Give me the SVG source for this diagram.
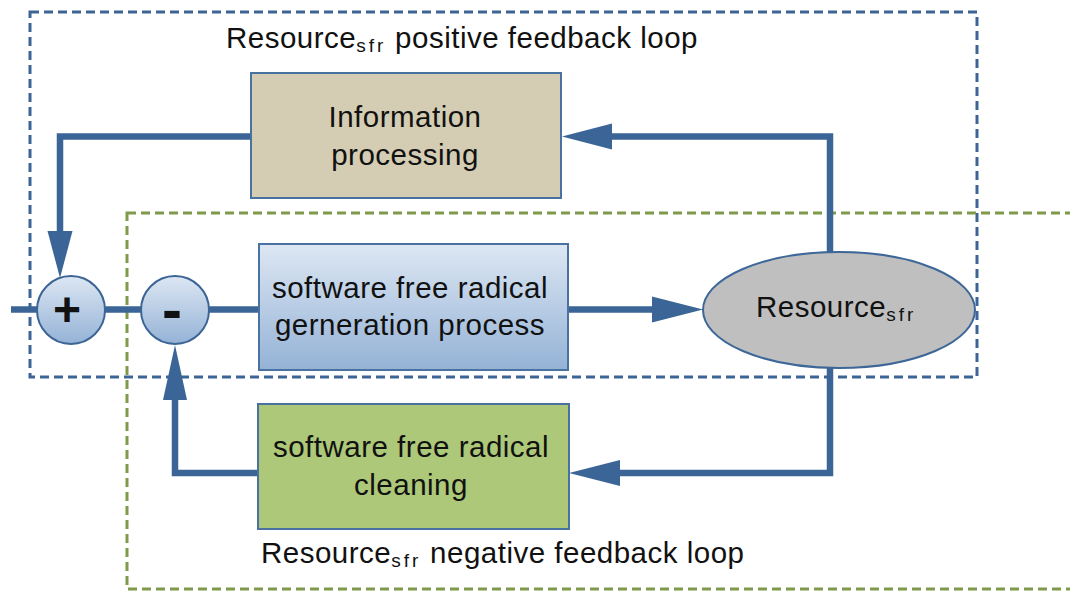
<svg xmlns="http://www.w3.org/2000/svg" width="1070" height="591" viewBox="0 0 1070 591">
<style>
.frameB{fill:none;stroke:#3c6595;stroke-width:3;stroke-dasharray:9 5}
.frameG{fill:none;stroke:#7e9a4a;stroke-width:3;stroke-dasharray:9 5}
.conn{fill:none;stroke:#3b6597;stroke-width:6.5;stroke-linejoin:miter;stroke-linecap:butt}
.head{fill:#3b6597}
.t{font-family:"Liberation Sans",Arial,sans-serif;font-size:29.5px;fill:#111;letter-spacing:0.5px}
.sub{font-size:19px;letter-spacing:3px}
.node{stroke:#4a72a0;stroke-width:2}
</style>
<defs>
<linearGradient id="gb" x1="0" y1="0" x2="0" y2="1">
<stop offset="0" stop-color="#dde7f3"/>
<stop offset="1" stop-color="#94b2d6"/>
</linearGradient>
</defs>
<g id="frames">
<rect class="frameB" x="30" y="12" width="947" height="365"/>
<rect class="frameG" x="127" y="213" width="1000" height="376"/>
</g>
<g id="connectors">
<polyline class="conn" points="11,309.5 37,309.5"/>
<polyline class="conn" points="105,309.5 141,309.5"/>
<polyline class="conn" points="209,309.5 259,309.5"/>
<polyline class="conn" points="568,309.5 655,309.5"/>
<polygon class="head" points="652,296.5 703,309.5 652,322.5"/>
<polyline class="conn" points="251,136.5 60,136.5 60,235"/>
<polygon class="head" points="47.5,231 72.5,231 60,278"/>
<polyline class="conn" points="830,252 830,136.5 608,136.5"/>
<polygon class="head" points="612,123.5 562,136.5 612,149.5"/>
<polyline class="conn" points="830,368 830,473 616,473"/>
<polygon class="head" points="620,460 569,473 620,486"/>
<polyline class="conn" points="258,473 175,473 175,396"/>
<polygon class="head" points="163,400 187,400 175,345"/>
</g>
<g id="info">
<rect class="node" x="251" y="73" width="310" height="125" fill="#d4cdb3"/>
<text class="t" x="405" y="127" text-anchor="middle">Information</text>
<text class="t" x="405" y="165" text-anchor="middle">processing</text>
</g>
<g id="gen">
<rect class="node" x="259" y="244" width="309" height="126" fill="url(#gb)"/>
<text class="t" x="410" y="298" text-anchor="middle">software free radical</text>
<text class="t" x="410" y="335" text-anchor="middle">gerneration process</text>
</g>
<g id="clean">
<rect class="node" x="258" y="404" width="311" height="125" fill="#adc878"/>
<text class="t" x="411" y="457" text-anchor="middle">software free radical</text>
<text class="t" x="411" y="495" text-anchor="middle">cleaning</text>
</g>
<g id="resource">
<ellipse cx="839" cy="310" rx="136" ry="58" fill="#bfbfbf" stroke="#3c6798" stroke-width="2"/>
<text class="t" x="756" y="317">Resource<tspan class="sub" dy="4">sfr</tspan></text>
</g>
<g id="plus">
<circle cx="71" cy="310" r="34" fill="url(#gb)" stroke="#3c6595" stroke-width="2"/>
<text x="67" y="326" text-anchor="middle" font-family="Liberation Sans,Arial,sans-serif" font-size="48" font-weight="bold" fill="#111">+</text>
</g>
<g id="minus">
<circle cx="175" cy="310" r="34" fill="url(#gb)" stroke="#3c6595" stroke-width="2"/>
<text x="172" y="330" text-anchor="middle" font-family="Liberation Sans,Arial,sans-serif" font-size="60" font-weight="bold" fill="#111">-</text>
</g>
<g id="labels">
<text class="t" x="226" y="48">Resource<tspan class="sub" dy="4">sfr</tspan><tspan dy="-4"> positive feedback loop</tspan></text>
<text class="t" x="261" y="563">Resource<tspan class="sub" dy="4">sfr</tspan><tspan dy="-4"> negative feedback loop</tspan></text>
</g>
</svg>
